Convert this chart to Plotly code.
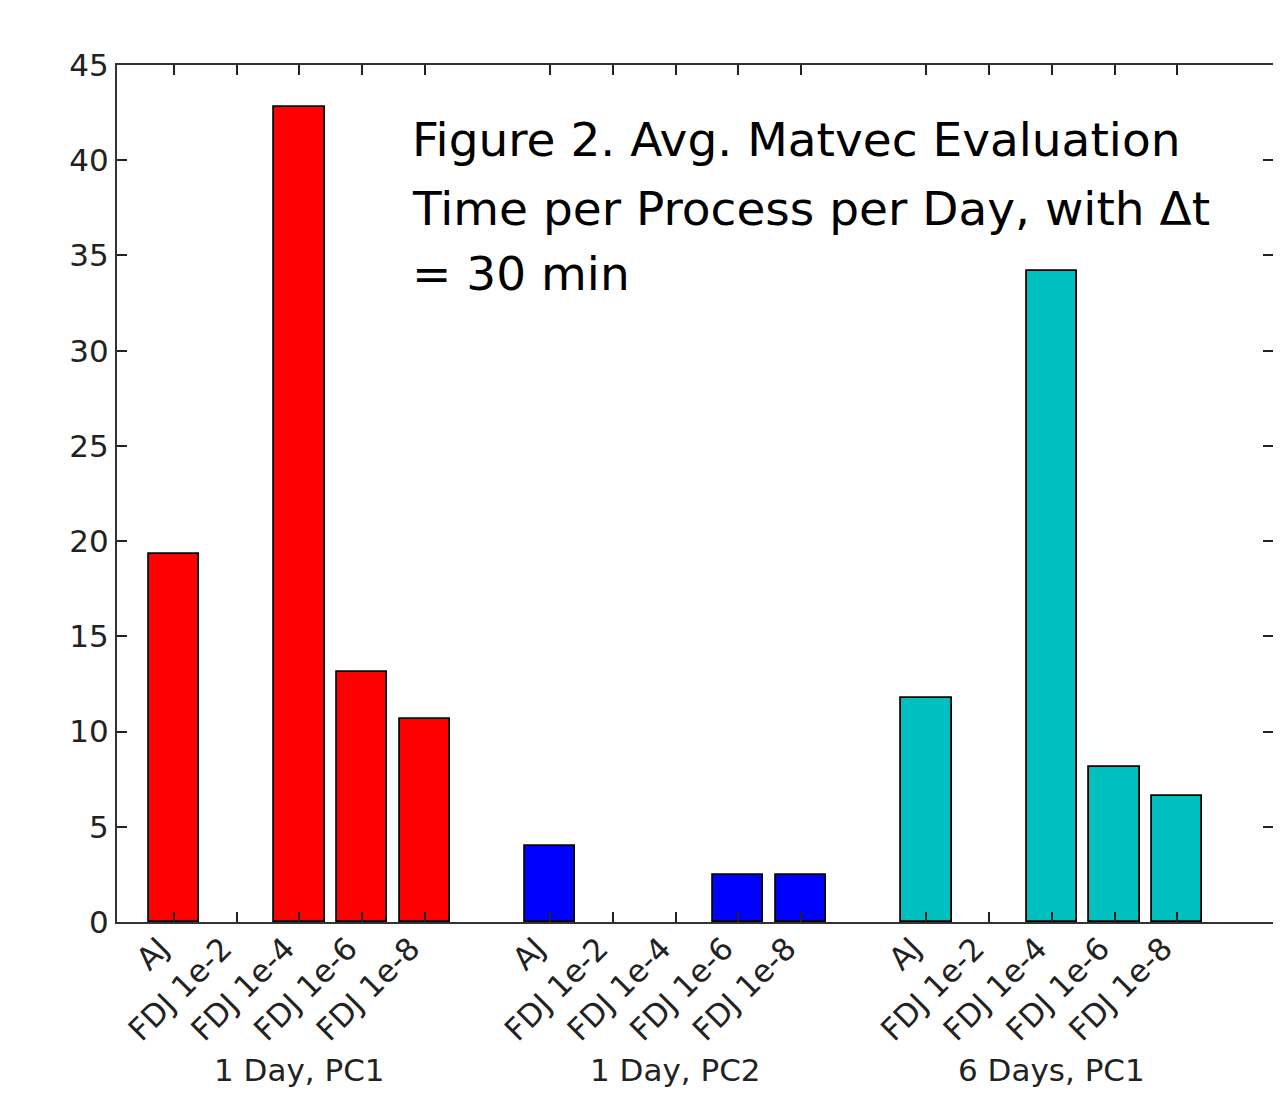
import plotly.graph_objects as go

categories = ["AJ", "FDJ 1e-2", "FDJ 1e-4", "FDJ 1e-6", "FDJ 1e-8"]
groups = ["1 Day, PC1", "1 Day, PC2", "6 Days, PC1"]
vals_1day_pc1 = [19.3, None, 42.8, 13.15, 10.68]
vals_1day_pc2 = [4.0, None, None, 2.48, 2.48]
vals_6day_pc1 = [11.78, None, 34.2, 8.15, 6.62]
colors = ["#ff0000", "#0000ff", "#00bfbf"]
yticks = [0, 5, 10, 15, 20, 25, 30, 35, 40, 45]
title_lines = ["Figure 2. Avg. Matvec Evaluation", "Time per Process per Day, with Δt", "= 30 min"]

# page is offset by the default 8px body margin
OFF = 8
W, H = 1265, 1080
PL, PT, PB, PR = 117, 65, 922, 1273   # plot area in page pixels
L, T = PL - OFF, PT - OFF
B = OFF + H - PB
R = OFF + W - PR
PW, PH = PR - PL, PB - PT

series = [vals_1day_pc1, vals_1day_pc2, vals_6day_pc1]
gap = len(categories) + 1

fig = go.Figure()
tickvals, ticktext = [], []
for g, (name, vals, col) in enumerate(zip(groups, series, colors)):
    xs = [g * gap + i for i in range(len(categories))]
    tickvals += xs
    ticktext += categories
    fig.add_trace(go.Bar(x=xs, y=vals, name=name, width=0.8,
                         marker=dict(color=col, line=dict(color="#000000", width=1.8)),
                         showlegend=False))
    fig.add_annotation(x=g * gap + (len(categories) - 1) / 2, xref="x",
                       y=-(1070 - PB) / PH, yref="paper", text=name, showarrow=False,
                       xanchor="center", yanchor="middle",
                       font=dict(family="DejaVu Sans", size=31, color="#222"))

# invisible trace for right-side mirrored ticks
fig.add_trace(go.Scatter(x=[None], y=[None], yaxis="y2", showlegend=False))

font_title = dict(family="DejaVu Sans", size=47, color="#000")
line_px = [110, 179, 244]
for ln, ypx in zip(title_lines, line_px):
    fig.add_annotation(x=(410 - PL) / PW, xref="paper",
                       y=(PB - ypx) / PH, yref="paper",
                       text=ln, showarrow=False, xanchor="left", yanchor="top",
                       font=font_title)

xr_left = -0.91
unit = 62.7
xr_right = xr_left + PW / unit

tick_font = dict(family="DejaVu Sans", size=31, color="#222")
fig.update_layout(
    width=W, height=H,
    margin=dict(l=L, r=R, t=T, b=B, pad=0),
    plot_bgcolor="white", paper_bgcolor="white",
    bargap=0,
    xaxis=dict(range=[xr_left, xr_right], tickmode="array", tickvals=tickvals, ticktext=ticktext,
               tickangle=-45, ticks="inside", ticklen=10, tickwidth=1.5, tickcolor="#222",
               showline=True, linecolor="#333", linewidth=2, mirror="ticks",
               ticklabelshift=-14, ticklabelstandoff=-6,
               showgrid=False, zeroline=False, tickfont=tick_font),
    yaxis=dict(range=[0, 45], tickmode="array", tickvals=yticks,
               ticks="inside", ticklen=10, tickwidth=1.5, tickcolor="#222",
               showline=True, linecolor="#333", linewidth=2, mirror=False,
               showgrid=False, zeroline=False, ticklabelstandoff=0, tickfont=tick_font),
    yaxis2=dict(range=[0, 45], overlaying="y", side="right", tickmode="array", tickvals=yticks,
                ticks="inside", ticklen=10, tickwidth=1.5, tickcolor="#222",
                showline=False, showgrid=False, zeroline=False, showticklabels=False),
)

fig.write_html("out.html")
